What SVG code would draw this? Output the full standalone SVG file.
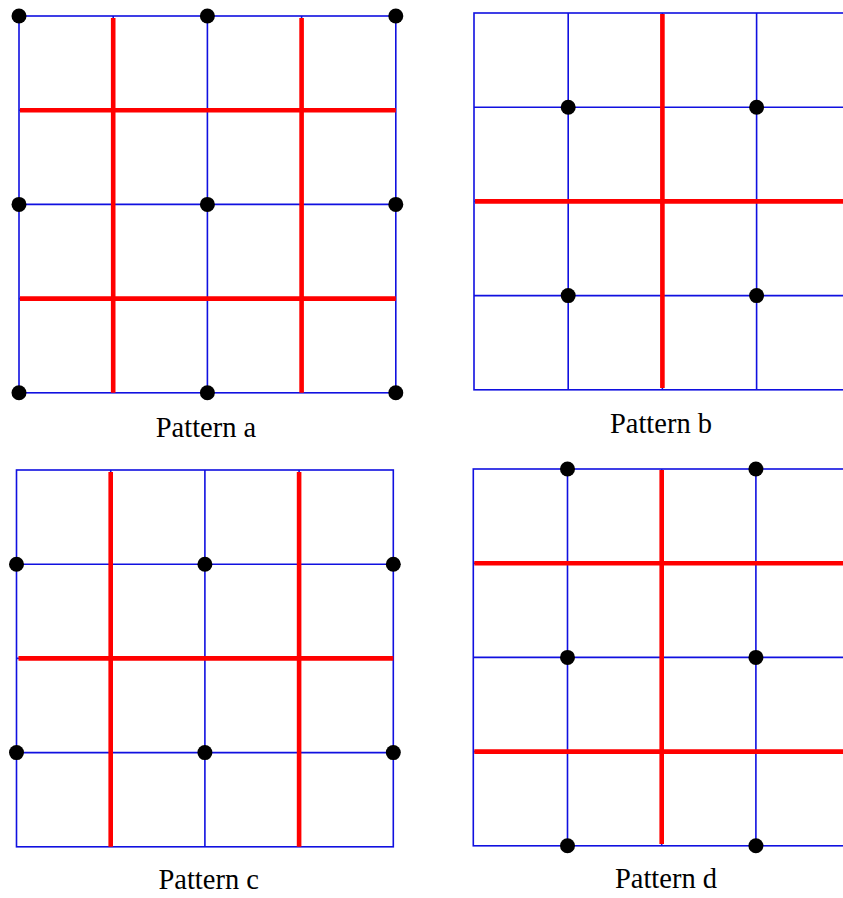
<svg xmlns="http://www.w3.org/2000/svg" xmlns:xlink="http://www.w3.org/1999/xlink" width="843" height="898" viewBox="0 0 843 898">
<style>
.grid{fill:none;stroke:#1010e0;stroke-width:1.6}
.red{stroke:#ff0000;stroke-width:4.6;fill:none;stroke-linecap:butt}
.dot{fill:#000}
.lbl{font-family:"Liberation Serif","Times New Roman",serif;font-size:28.5px;fill:#000;text-anchor:middle}
</style>
<defs>
<g id="grid">
<rect class="grid" x="0" y="0" width="376.8" height="376.8"/>
<path class="grid" d="M94.2 0V376.8M188.4 0V376.8M282.6 0V376.8M0 94.2H376.8M0 188.4H376.8M0 282.6H376.8"/>
</g>
</defs>
<g id="pattern-a" transform="translate(19,16)">
<use xlink:href="#grid"/>
<path class="red" d="M94.2 2V376.8M282.6 2V376.8M1 94.2H376.8M1 282.6H376.8"/>
<circle class="dot" cx="0" cy="0" r="7.5"/><circle class="dot" cx="188.4" cy="0" r="7.5"/><circle class="dot" cx="376.8" cy="0" r="7.5"/>
<circle class="dot" cx="0" cy="188.4" r="7.5"/><circle class="dot" cx="188.4" cy="188.4" r="7.5"/><circle class="dot" cx="376.8" cy="188.4" r="7.5"/>
<circle class="dot" cx="0" cy="376.8" r="7.5"/><circle class="dot" cx="188.4" cy="376.8" r="7.5"/><circle class="dot" cx="376.8" cy="376.8" r="7.5"/>
<text class="lbl" x="187" y="421">Pattern a</text>
</g>
<g id="pattern-b" transform="translate(474,13)">
<use xlink:href="#grid"/>
<path class="red" d="M188.4 1V375M1 188.4H376.8"/>
<circle class="dot" cx="94.2" cy="94.2" r="7.5"/><circle class="dot" cx="282.6" cy="94.2" r="7.5"/>
<circle class="dot" cx="94.2" cy="282.6" r="7.5"/><circle class="dot" cx="282.6" cy="282.6" r="7.5"/>
<text class="lbl" x="187" y="420.3">Pattern b</text>
</g>
<g id="pattern-c" transform="translate(16.5,470)">
<use xlink:href="#grid"/>
<path class="red" d="M94.2 2V376.8M282.6 2V376.8M2 188.4H376.8"/>
<circle class="dot" cx="0" cy="94.2" r="7.5"/><circle class="dot" cx="188.4" cy="94.2" r="7.5"/><circle class="dot" cx="376.8" cy="94.2" r="7.5"/>
<circle class="dot" cx="0" cy="282.6" r="7.5"/><circle class="dot" cx="188.4" cy="282.6" r="7.5"/><circle class="dot" cx="376.8" cy="282.6" r="7.5"/>
<text class="lbl" x="192.2" y="419">Pattern c</text>
</g>
<g id="pattern-d" transform="translate(473.3,469)">
<use xlink:href="#grid"/>
<path class="red" d="M188.4 1V375M1 94.2H376.8M1 282.6H376.8"/>
<circle class="dot" cx="94.2" cy="0" r="7.5"/><circle class="dot" cx="282.6" cy="0" r="7.5"/>
<circle class="dot" cx="94.2" cy="188.4" r="7.5"/><circle class="dot" cx="282.6" cy="188.4" r="7.5"/>
<circle class="dot" cx="94.2" cy="376.8" r="7.5"/><circle class="dot" cx="282.6" cy="376.8" r="7.5"/>
<text class="lbl" x="192.7" y="419.3">Pattern d</text>
</g>
</svg>
